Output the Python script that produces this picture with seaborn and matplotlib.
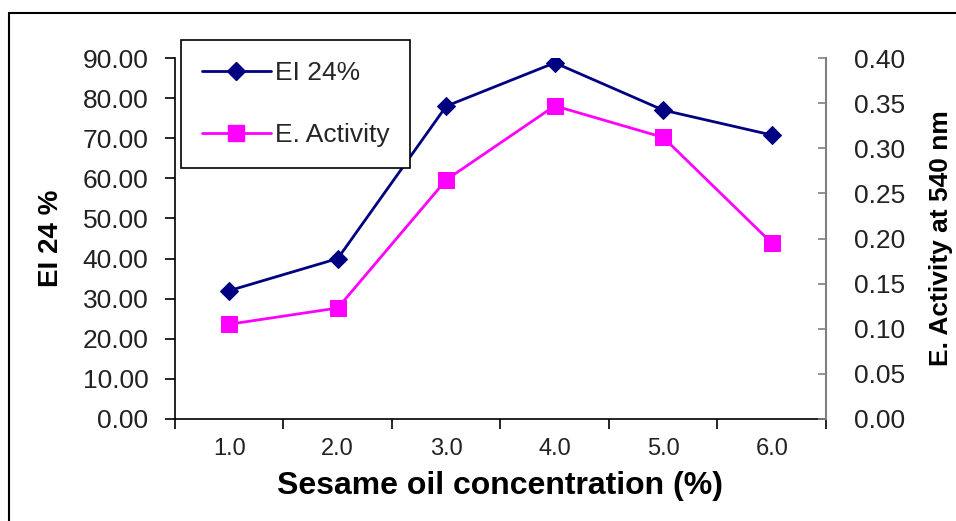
import matplotlib
matplotlib.use("Agg")
import matplotlib.pyplot as plt
import seaborn as sns
import pandas as pd
from matplotlib.lines import Line2D
from matplotlib.ticker import FixedLocator, FuncFormatter

# ---- data ----
concentration = [1.0, 2.0, 3.0, 4.0, 5.0, 6.0]
ei24 = [32.0, 40.0, 78.0, 88.8, 77.0, 70.8]
e_activity = [0.105, 0.123, 0.265, 0.347, 0.312, 0.195]
left_ticks = [0, 10, 20, 30, 40, 50, 60, 70, 80, 90]
right_ticks = [0.00, 0.05, 0.10, 0.15, 0.20, 0.25, 0.30, 0.35, 0.40]

df = pd.DataFrame({"conc": concentration, "EI 24%": ei24, "E. Activity": e_activity})

sns.set_theme(style="white")
plt.rcParams["font.family"] = ["Liberation Sans", "DejaVu Sans"]

W, H = 956, 521
fig = plt.figure(figsize=(W / 100, H / 100), dpi=100)
fig.patch.set_facecolor("white")
ax = fig.add_axes([175 / W, 1 - 419 / H, (826 - 175) / W, (419 - 58) / H])
ax2 = ax.twinx()

navy = "#000080"
magenta = "#FF00FF"

sns.lineplot(data=df, x="conc", y="EI 24%", ax=ax, color=navy, marker="D",
             markersize=9, linewidth=2, markeredgecolor=navy, legend=False)
sns.lineplot(data=df, x="conc", y="E. Activity", ax=ax2, color=magenta, marker="s",
             markersize=12, linewidth=2, markeredgecolor=magenta, legend=False)

ax.set_xlim(0.5, 6.5)
ax.set_ylim(0, 90)
ax2.set_ylim(0, 0.40)

ax.set_xticks(concentration)
ax.set_xticklabels([f"{c:.1f}" for c in concentration])
ax.xaxis.set_minor_locator(FixedLocator([0.5 + i for i in range(7)]))
ax.tick_params(axis="x", which="major", length=0, pad=14, labelsize=17, labelcolor="#222222")
ax.tick_params(axis="x", which="minor", length=7, width=1.2, direction="out", color="black", bottom=True)

ax.set_yticks(left_ticks)
ax.yaxis.set_major_formatter(FuncFormatter(lambda v, p: f"{v:.2f}"))
ax.tick_params(axis="y", which="major", length=7, width=1.2, direction="out", left=True,
               labelsize=19, pad=12, color="black", labelcolor="#222222")

ax2.set_yticks(right_ticks)
ax2.yaxis.set_major_formatter(FuncFormatter(lambda v, p: f"{v:.2f}"))
ax2.tick_params(axis="y", which="major", length=6, width=1.2, direction="in", right=True,
                labelsize=19, pad=20, color="#808080", labelcolor="#222222")

for a in (ax, ax2):
    a.spines["top"].set_visible(False)
    a.grid(False)
ax.spines["right"].set_visible(False)
ax2.spines["left"].set_visible(False)
ax2.spines["bottom"].set_visible(False)
ax.spines["left"].set_color("black")
ax.spines["bottom"].set_color("black")
ax.spines["left"].set_linewidth(1.2)
ax.spines["bottom"].set_linewidth(1.2)
ax2.spines["right"].set_color("#808080")
ax2.spines["right"].set_linewidth(1.5)

ax.set_xlabel("Sesame oil concentration (%)", fontsize=23, fontweight="bold", color="black")
ax.xaxis.set_label_coords(0.5, (419 - 486) / 361)
ax.xaxis.label.set_va("center")
ax.set_ylabel("EI 24 %", fontsize=20, fontweight="bold", color="black", va="center")
ax.yaxis.set_label_coords((51 - 175) / 651, 0.5)
ax2.set_ylabel("E. Activity at 540 nm", fontsize=19, fontweight="bold", color="black",
               va="center", rotation=90)
ax2.yaxis.set_label_coords((941 - 175) / 651, 0.5)

handles = [
    Line2D([], [], color=navy, marker="D", markersize=9, linewidth=2, markeredgecolor=navy),
    Line2D([], [], color=magenta, marker="s", markersize=12, linewidth=2, markeredgecolor=magenta),
]
leg = fig.legend(handles, ["EI 24%", "E. Activity"], loc="upper left",
                 bbox_to_anchor=(181 / W, 1 - 40 / H), bbox_transform=fig.transFigure,
                 fontsize=19, frameon=True, fancybox=False, borderaxespad=0,
                 handlelength=2.6, handletextpad=0.15, labelspacing=1.45,
                 borderpad=0.8, framealpha=1)
leg.get_frame().set_edgecolor("black")
leg.get_frame().set_linewidth(1.2)

# outer frame (left and top edges)
fig.add_artist(Line2D([9 / W, 9 / W], [0, 1 - 13 / H], transform=fig.transFigure,
                      color="black", linewidth=1.5))
fig.add_artist(Line2D([9 / W, 1], [1 - 13 / H, 1 - 13 / H], transform=fig.transFigure,
                      color="black", linewidth=1.5))

fig.savefig("out.png", dpi=100, facecolor="white")
